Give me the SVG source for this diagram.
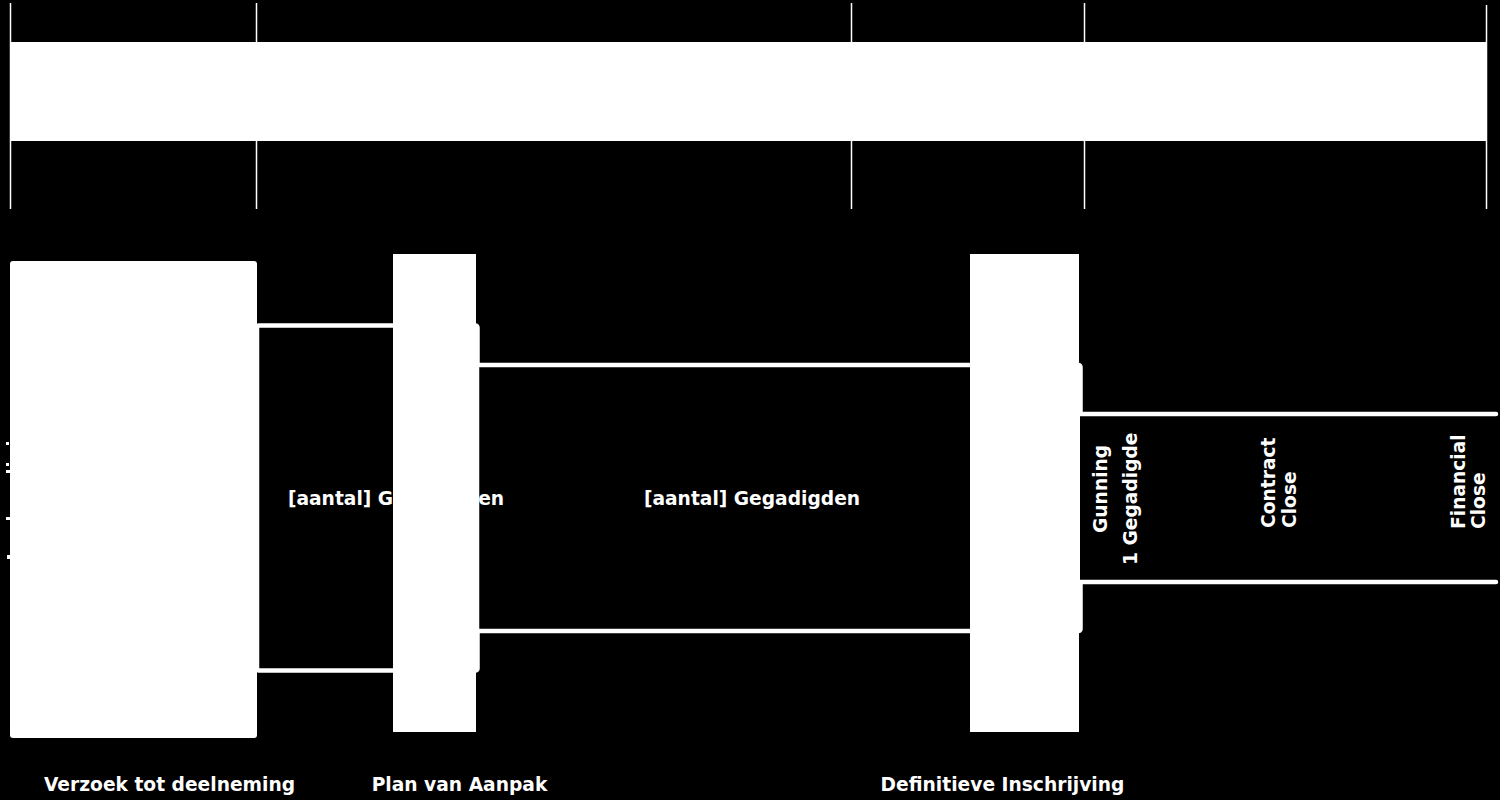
<svg xmlns="http://www.w3.org/2000/svg" width="1500" height="800" viewBox="0 0 1500 800">
  <defs>
    <style>
      .bg { fill: #000000; }
      .solid { fill: #ffffff; }
      .grid { stroke: #ffffff; stroke-width: 1.5; fill: none; }
      .band { fill: #000000; stroke: #ffffff; stroke-width: 4.5; }
      .edge { fill: none; stroke: #ffffff; stroke-width: 4.5; stroke-linecap: round; }
      .lbl { fill: #ffffff; font-family: "DejaVu Sans", Verdana, sans-serif; font-weight: bold; font-size: 18.67px; }
      .mid { text-anchor: middle; }
    </style>
  </defs>
  <rect class="bg" x="0" y="0" width="1500" height="800"/>

  <g id="timeline-header">
    <rect class="solid" x="10" y="42" width="1477" height="99"/>
    <line class="grid" x1="10.5" y1="3" x2="10.5" y2="209"/>
    <line class="grid" x1="256.5" y1="3" x2="256.5" y2="209"/>
    <line class="grid" x1="851.5" y1="3" x2="851.5" y2="209"/>
    <line class="grid" x1="1084.5" y1="3" x2="1084.5" y2="209"/>
    <line class="grid" x1="1486.5" y1="5" x2="1486.5" y2="209"/>
  </g>

  <g id="connectors">
    <rect id="band-1" class="band" x="257" y="325.5" width="220.5" height="345" rx="2"/>
    <rect id="band-2" class="band" x="477" y="365" width="603.5" height="266" rx="2"/>
    <rect x="1080" y="414" width="420" height="168" class="bg"/>
    <path id="band-3" class="edge" d="M1080,414 H1496 M1080,582 H1496"/>
    <text class="lbl mid" x="396" y="505">[aantal] Gegadigden</text>
    <text class="lbl mid" x="752" y="505">[aantal] Gegadigden</text>
  </g>

  <g id="edge-marks">
    <rect class="solid" x="6" y="442" width="3" height="3"/>
    <rect class="solid" x="6" y="463" width="3" height="3"/>
    <rect class="solid" x="6" y="470" width="4" height="3"/>
    <rect class="solid" x="6" y="517" width="4" height="3"/>
    <rect class="solid" x="7" y="555" width="3" height="4"/>
  </g>

  <g id="node-verzoek">
    <rect class="solid" x="10" y="261" width="247" height="477" rx="3"/>
    <text class="lbl mid" x="169.5" y="791">Verzoek tot deelneming</text>
  </g>

  <g id="node-plan">
    <rect class="solid" x="393" y="254" width="83" height="478"/>
    <text class="lbl mid" x="459.5" y="791">Plan van Aanpak</text>
  </g>

  <g id="node-definitief">
    <rect class="solid" x="970" y="254" width="109" height="478"/>
    <text class="lbl mid" x="1002.5" y="791">Definitieve Inschrijving</text>
  </g>

  <g id="node-gunning">
    <text class="lbl" transform="translate(1107,533) rotate(-90)">Gunning</text>
    <text class="lbl" transform="translate(1137,565) rotate(-90)">1 Gegadigde</text>
  </g>

  <g id="node-contract-close">
    <text class="lbl" transform="translate(1275,528) rotate(-90)">Contract</text>
    <text class="lbl" transform="translate(1296,528) rotate(-90)">Close</text>
  </g>

  <g id="node-financial-close">
    <text class="lbl" transform="translate(1465,529) rotate(-90)">Financial</text>
    <text class="lbl" transform="translate(1485,529) rotate(-90)">Close</text>
  </g>
</svg>
